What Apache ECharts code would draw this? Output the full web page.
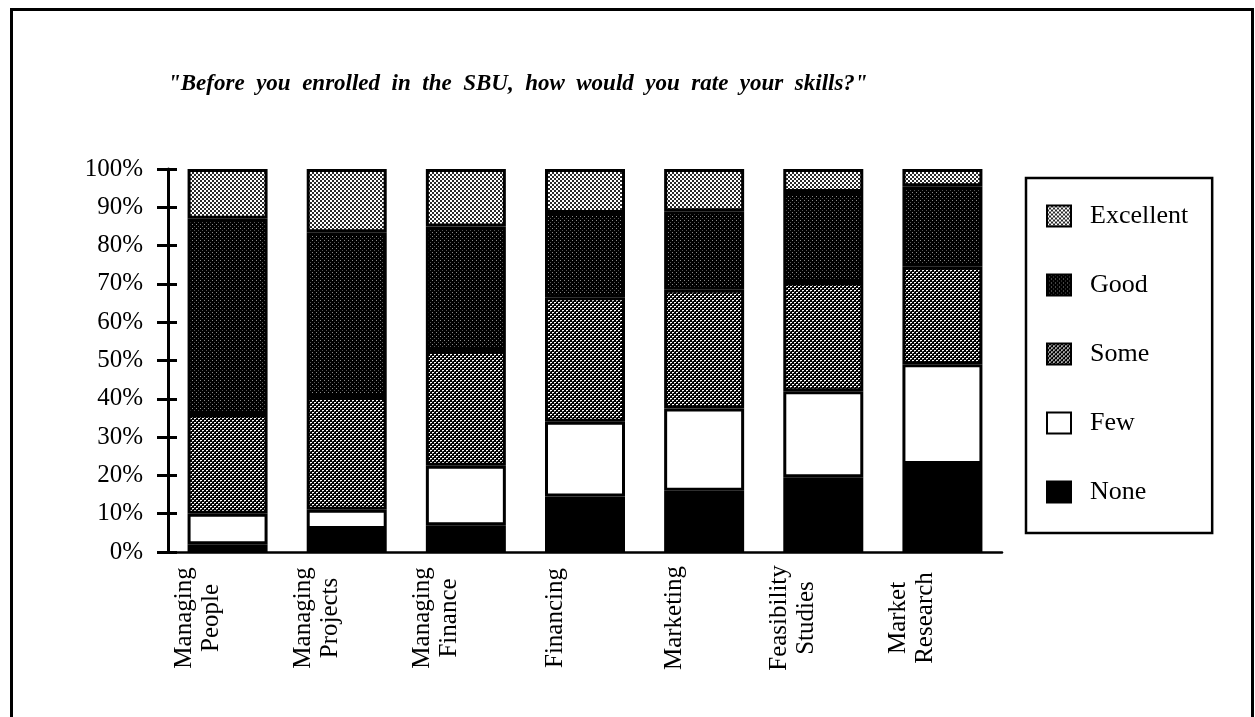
<!DOCTYPE html>
<html>
<head>
<meta charset="utf-8">
<title>Skills before enrolling in the SBU</title>
<script src="https://cdn.jsdelivr.net/npm/echarts@6/dist/echarts.min.js"></script>
<style>
  html, body { margin: 0; padding: 0; background: #fff; }
  #chart { width: 1255px; height: 717px; }
</style>
</head>
<body>
<div id="chart"></div>
<script>
// Skill areas on the x axis
const categories = [
  'Managing\nPeople', 'Managing\nProjects', 'Managing\nFinance',
  'Financing', 'Marketing', 'Feasibility\nStudies', 'Market\nResearch'
];

// Share of respondents (%) per rating, bottom of the stack first
const none      = [2,    6,    7,    14.5, 16,   19.5, 23];
const few       = [8,    5,    15.5, 19.5, 21.5, 22.5, 26];
const some      = [26,   29.5, 30,   32.5, 31,   28.5, 25.5];
const good      = [51,   43,   32.5, 22,   20.5, 23.5, 21];
const excellent = [13,   16.5, 15,   11.5, 11,   6,    4.5];

// Y axis tick values
const yTicks = [0, 10, 20, 30, 40, 50, 60, 70, 80, 90, 100];

const titleText = '"Before you enrolled in the SBU, how would you rate your skills?"';

const SERIF = '"Liberation Serif", "DejaVu Serif", serif';

// Small repeating screen-tone tiles used as bar fills
function tone(bg, dots) {
  const c = document.createElement('canvas');
  c.width = 4; c.height = 4;
  const g = c.getContext('2d');
  g.fillStyle = bg;
  g.fillRect(0, 0, 4, 4);
  dots.forEach(function (d) {
    g.fillStyle = d[4];
    g.fillRect(d[0], d[1], d[2], d[3]);
  });
  return { image: c, repeat: 'repeat' };
}

const fillExcellent = tone('#ffffff', [[0, 0, 2, 2, '#2a2a2a'], [2, 2, 2, 2, '#2a2a2a']]);
const fillGood      = tone('#000000', [[0, 0, 1, 1, '#8a8a8a'], [2, 2, 1, 1, '#555555']]);
const fillSome      = tone('#000000', [[0, 0, 2, 1, '#ffffff'], [2, 2, 2, 1, '#ffffff'],
                                       [0, 1, 1, 1, '#777777'], [2, 3, 1, 1, '#777777']]);
const fillFew       = '#ffffff';
const fillNone      = '#000000';

function barSeries(name, data, fill) {
  return {
    name: name,
    type: 'bar',
    stack: 'total',
    barWidth: 80,
    data: data,
    itemStyle: { color: fill, borderColor: '#000', borderWidth: 3 },
    emphasis: { disabled: true }
  };
}

// Title words get wide gaps, set in a separate rich style
const titleRich = titleText.split(' ').map(function (w) {
  return '{w|' + w + '}';
}).join('{s| }');

const chart = echarts.init(document.getElementById('chart'), null, { renderer: 'canvas' });

chart.setOption({
  animation: false,
  backgroundColor: '#ffffff',
  title: {
    text: titleRich,
    left: 163,
    top: 64,
    textStyle: {
      rich: {
        w: {
          fontFamily: SERIF,
          fontStyle: 'italic',
          fontWeight: 'bold',
          fontSize: 23,
          lineHeight: 30,
          color: '#000'
        },
        s: {
          fontFamily: SERIF,
          fontSize: 46,
          lineHeight: 30,
          color: '#000'
        }
      }
    }
  },
  graphic: [{
    type: 'rect',
    silent: true,
    shape: { x: 11.5, y: 9.5, width: 1241, height: 730 },
    style: { fill: 'none', stroke: '#000', lineWidth: 3 }
  }],
  legend: {
    orient: 'vertical',
    left: 1026,
    top: 178,
    data: ['Excellent', 'Good', 'Some', 'Few', 'None'],
    icon: 'rect',
    itemWidth: 24,
    itemHeight: 21,
    itemGap: 43,
    padding: [25, 24, 28, 20],
    borderColor: '#000',
    borderWidth: 2.5,
    itemStyle: { borderWidth: 2 },
    selectedMode: false,
    textStyle: {
      fontFamily: SERIF,
      fontSize: 26,
      lineHeight: 26,
      color: '#000',
      padding: [0, 0, 0, 14]
    }
  },
  grid: {
    left: 168,
    right: 253,
    top: 169,
    bottom: 165,
    containLabel: false
  },
  xAxis: [{
    type: 'category',
    data: categories,
    boundaryGap: true,
    axisLine: { lineStyle: { color: '#000', width: 2.5 } },
    axisTick: { length: 9, lineStyle: { color: '#000', width: 2.5 } },
    axisLabel: {
      rotate: 90,
      interval: 0,
      align: 'center',
      verticalAlign: 'middle',
      margin: 66,
      // trailing spacer line sets each label a little left of its bar centre
      formatter: function (v) {
        return v.split('\n').map(function (s) { return '{t|' + s + '}'; }).join('\n') + '\n{g| }';
      },
      rich: {
        t: { fontFamily: SERIF, fontSize: 25, lineHeight: 27, color: '#000' },
        g: { fontFamily: SERIF, fontSize: 10, lineHeight: 60, color: '#000' }
      }
    }
  }, {
    type: 'category',
    data: categories,
    position: 'bottom',
    boundaryGap: true,
    axisLine: { show: false },
    axisTick: { inside: true, length: 9, lineStyle: { color: '#000', width: 2.5 } },
    axisLabel: { show: false }
  }],
  yAxis: [{
    type: 'value',
    min: yTicks[0],
    max: yTicks[yTicks.length - 1],
    interval: 10,
    position: 'left',
    axisLine: { show: true, lineStyle: { color: '#000', width: 3 } },
    axisTick: { show: true, length: 11, lineStyle: { color: '#000', width: 3 } },
    splitLine: { show: false },
    axisLabel: {
      margin: 25,
      formatter: '{value}%',
      fontFamily: SERIF,
      fontSize: 25,
      color: '#000'
    }
  }, {
    type: 'value',
    min: yTicks[0],
    max: yTicks[yTicks.length - 1],
    interval: 10,
    position: 'left',
    axisLine: { show: false },
    axisTick: { show: true, inside: true, length: 9, lineStyle: { color: '#000', width: 3 } },
    splitLine: { show: false },
    axisLabel: { show: false }
  }],
  series: [
    barSeries('None', none, fillNone),
    barSeries('Few', few, fillFew),
    barSeries('Some', some, fillSome),
    barSeries('Good', good, fillGood),
    barSeries('Excellent', excellent, fillExcellent)
  ]
});
</script>
</body>
</html>
